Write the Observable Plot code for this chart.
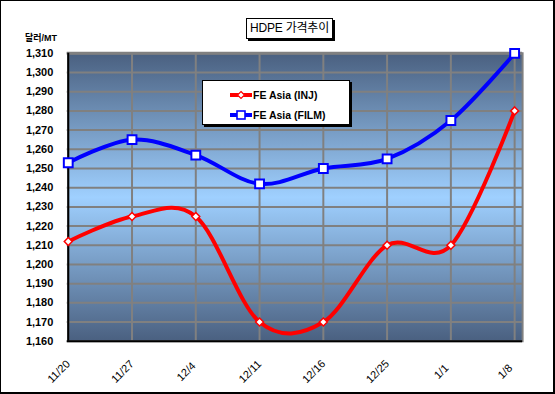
<!DOCTYPE html>
<html>
<head>
<meta charset="utf-8">
<script src="https://cdn.jsdelivr.net/npm/d3@7"></script>
<script src="https://cdn.jsdelivr.net/npm/@observablehq/plot@0.6"></script>
<style>
  html, body { margin: 0; padding: 0; background: #fff; }
  #wrap { position: relative; width: 555px; height: 394px; box-sizing: border-box;
          border: 1px solid #000; border-right-width: 2px; border-bottom-width: 2px; overflow: hidden;
          font-family: "Liberation Sans", Arial, "Noto Sans CJK KR", sans-serif; }
  #chart { position: absolute; left: -1px; top: -1px; }
  #title { position: absolute; left: 245px; top: 17px; width: 87px; height: 21px; box-sizing: border-box;
           border: 1px solid #000; box-shadow: 2px 2px 0 #000; background: #fff;
           font-size: 12px; line-height: 19px; text-align: center; white-space: nowrap; letter-spacing: -0.2px;
           font-family: "Liberation Sans", "Noto Sans CJK KR", sans-serif; }
  #ylabel { position: absolute; left: 24px; top: 30px; font-size: 9px; font-weight: bold;
            font-family: "Liberation Sans", "Noto Sans CJK KR", sans-serif; }
  #legend { position: absolute; left: 201px; top: 79px; width: 148px; height: 45px; box-sizing: border-box;
            border: 1px solid #000; box-shadow: 2px 2px 0 #000; background: #fff; }
  .lrow { position: absolute; left: 27px; height: 14px; display: flex; align-items: center;
          font-size: 10.5px; font-weight: bold; white-space: nowrap; }
  .lrow svg { margin-right: 1px; }
</style>
</head>
<body>
<div id="wrap">
  <div id="chart"></div>
  <div id="title">HDPE 가격추이</div>
  <div id="ylabel">달러/MT</div>
  <div id="legend">
    <div class="lrow" style="top:7px">
      <svg width="22" height="10"><line x1="0" y1="5" x2="22" y2="5" stroke="#ff0000" stroke-width="4"/><path d="M11,1.5 L14.5,5 L11,8.5 L7.5,5 Z" fill="#fff" stroke="#ff0000" stroke-width="1.2"/></svg>FE Asia (INJ)
    </div>
    <div class="lrow" style="top:27px">
      <svg width="22" height="10"><line x1="0" y1="5" x2="22" y2="5" stroke="#0000ff" stroke-width="4"/><rect x="7" y="1" width="8" height="8" fill="#fff" stroke="#0000ff" stroke-width="1.6"/></svg>FE Asia (FILM)
    </div>
  </div>
</div>
<script>
const dates = ["11/20", "11/27", "12/4", "12/11", "12/16", "12/25", "1/1", "1/8"];
const injValues = [1212, 1225, 1225, 1170, 1170, 1210, 1210, 1280];
const filmValues = [1253, 1265, 1257, 1242, 1250, 1255, 1275, 1310];
const yTicks = [1160, 1170, 1180, 1190, 1200, 1210, 1220, 1230, 1240, 1250, 1260, 1270, 1280, 1290, 1300, 1310];

const inj = dates.map((d, i) => ({date: d, value: injValues[i]}));
const film = dates.map((d, i) => ({date: d, value: filmValues[i]}));
const fmt = d3.format(",");

const chart = Plot.plot({
  width: 555,
  height: 394,
  marginLeft: 67,
  marginRight: 31,
  marginTop: 53,
  marginBottom: 52,
  insetRight: 7,
  style: {background: "transparent", fontFamily: "Liberation Sans, Arial, sans-serif"},
  x: {type: "point", domain: dates, padding: 0, axis: null},
  y: {domain: [1160, 1310], axis: null},
  marks: [
    Plot.frame({fill: "url(#plotbg)", stroke: "none"}),
    Plot.gridY(yTicks, {stroke: "#808080", strokeOpacity: 1, strokeWidth: 2}),
    Plot.gridX(dates, {stroke: "#808080", strokeOpacity: 1, strokeWidth: 2}),
    Plot.ruleY([1310], {stroke: "#808080", strokeWidth: 3}),
    Plot.frame({anchor: "right", stroke: "#808080", strokeWidth: 2}),
    Plot.ruleY([1160], {stroke: "#000", strokeWidth: 2}),
    Plot.ruleX(["11/20"], {stroke: "#000", strokeWidth: 2}),
    Plot.text(yTicks, {y: d => d, frameAnchor: "left", dx: -14, textAnchor: "end", text: d => fmt(d),
      fontSize: 11, fontWeight: "bold", fill: "#000"}),
    Plot.text(dates, {x: d => d, frameAnchor: "bottom", dy: 33, dx: -7, rotate: -45, textAnchor: "middle",
      text: d => d, fontSize: 11, fill: "#000"}),
    Plot.line(film, {x: "date", y: "value", curve: "cardinal", stroke: "#0000ff", strokeWidth: 4}),
    Plot.line(inj, {x: "date", y: "value", curve: "cardinal", stroke: "#ff0000", strokeWidth: 4}),
    Plot.dot(film, {x: "date", y: "value", symbol: "square", r: 5, fill: "#fff", stroke: "#0000ff", strokeWidth: 2}),
    Plot.dot(inj, {x: "date", y: "value", symbol: "diamond2", r: 3.6, fill: "#fff", stroke: "#ff0000", strokeWidth: 1.5})
  ]
});

const svg = d3.select(chart);
const defs = svg.insert("defs", ":first-child");
const grad = defs.append("linearGradient").attr("id", "plotbg").attr("x1", 0).attr("y1", 0).attr("x2", 0).attr("y2", 1);
grad.append("stop").attr("offset", "0%").attr("stop-color", "#4a6080");
grad.append("stop").attr("offset", "50%").attr("stop-color", "#9fd0ff");
grad.append("stop").attr("offset", "100%").attr("stop-color", "#4a6080");

document.getElementById("chart").appendChild(chart);
</script>
</body>
</html>
